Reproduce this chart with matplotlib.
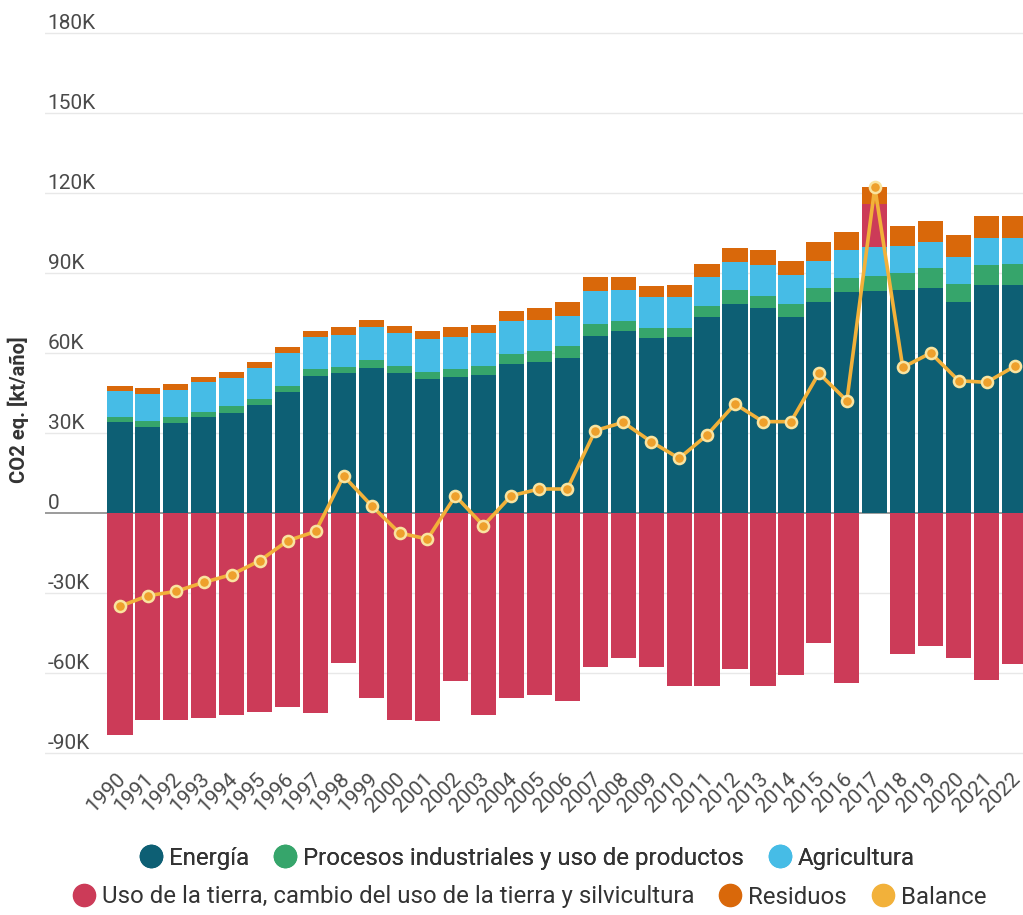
import numpy as np
import matplotlib.pyplot as plt
from matplotlib.lines import Line2D
from matplotlib.transforms import ScaledTranslation

plt.rcParams['font.family'] = ['Roboto', 'DejaVu Sans']

# values in kt CO2 eq. (thousands)
years = list(range(1990, 2023))
energia = [34.0, 32.4, 33.6, 35.9, 37.5, 40.5, 45.5, 51.5, 52.5, 54.25, 52.5, 50.25, 50.9,
           51.75, 55.75, 56.5, 58.1, 66.5, 68.1, 65.5, 65.9, 73.4, 78.4, 76.9, 73.4, 79.25,
           82.75, 83.1, 83.75, 84.4, 79.25, 85.5, 85.5]
procesos = [1.9, 2.2, 2.3, 1.85, 2.5, 2.25, 2.25, 2.5, 2.1, 3.25, 2.5, 2.75, 3.1,
            3.25, 4.0, 4.4, 4.65, 4.4, 4.0, 3.9, 3.5, 4.35, 5.35, 4.6, 5.0, 5.0,
            5.35, 5.9, 6.25, 7.35, 6.65, 7.5, 7.9]
agricultura = [10.0, 10.0, 10.35, 11.25, 10.5, 11.5, 12.15, 11.9, 12.3, 12.1, 12.4, 12.25, 12.1,
               12.4, 12.25, 11.5, 11.25, 12.5, 11.65, 11.5, 11.7, 10.65, 10.25, 11.6, 10.85, 10.35,
               10.5, 10.6, 10.25, 9.75, 10.0, 10.0, 9.6]
uso_tierra = [-83.1, -77.5, -77.5, -76.9, -75.75, -74.5, -72.6, -75.1, -56.25, -69.4, -77.5, -77.9, -63.1,
              -75.75, -69.4, -68.25, -70.4, -57.9, -54.5, -57.9, -65.0, -65.0, -58.5, -65.0, -60.75, -48.75,
              -63.6, 16.3, -52.9, -49.75, -54.5, -62.5, -56.75]
residuos = [1.85, 2.15, 2.15, 1.9, 2.5, 2.25, 2.2, 2.5, 2.7, 2.8, 2.85, 3.15, 3.5,
            3.2, 3.7, 4.5, 5.25, 5.0, 4.65, 4.1, 4.4, 5.0, 5.25, 5.5, 5.35, 6.9,
            6.9, 6.2, 7.5, 8.1, 8.5, 8.25, 8.25]
balance = [-35.0, -31.0, -29.4, -26.0, -23.1, -17.9, -10.4, -6.9, 13.9, 2.75, -7.5, -9.75, 6.4,
           -4.75, 6.5, 9.0, 9.0, 30.9, 34.0, 26.75, 20.5, 29.25, 40.9, 34.25, 34.25, 52.4,
           42.1, 122.1, 54.6, 60.0, 49.6, 49.0, 55.0]

yticks = [-90, -60, -30, 0, 30, 60, 90, 120, 150, 180]
ytick_labels = ['-90K', '-60K', '-30K', '0', '30K', '60K', '90K', '120K', '150K', '180K']

colors = {
    'Energía': '#0d5f74',
    'Procesos industriales y uso de productos': '#36a56b',
    'Agricultura': '#46bce6',
    'Uso de la tierra, cambio del uso de la tierra y silvicultura': '#cc3b58',
    'Residuos': '#d9680a',
    'Balance': '#f2b13a',
}

x = np.array(years)
e = np.array(energia)
p = np.array(procesos)
a = np.array(agricultura)
u = np.array(uso_tierra)
r = np.array(residuos)
u_pos = np.clip(u, 0, None)
u_neg = np.clip(u, None, 0)

fig = plt.figure(figsize=(10.23, 9.15), dpi=100)
ax = fig.add_axes([45 / 1023, 1 - 761 / 915, 1 - 45 / 1023, 736 / 915])

w = 0.9
ax.bar(x, e, w, color=colors['Energía'], zorder=2)
ax.bar(x, p, w, bottom=e, color=colors['Procesos industriales y uso de productos'], zorder=2)
ax.bar(x, a, w, bottom=e + p, color=colors['Agricultura'], zorder=2)
ax.bar(x, u_pos, w, bottom=e + p + a,
       color=colors['Uso de la tierra, cambio del uso de la tierra y silvicultura'], zorder=2)
ax.bar(x, r, w, bottom=e + p + a + u_pos, color=colors['Residuos'], zorder=2)
ax.bar(x, u_neg, w, color=colors['Uso de la tierra, cambio del uso de la tierra y silvicultura'], zorder=2)

# balance line
ax.plot(x, balance, color=colors['Balance'], lw=2.6, zorder=3,
        marker='o', markersize=8, markerfacecolor='#eea02c', markeredgecolor='#f9e4a0',
        markeredgewidth=1.8)

ax.set_xlim(1987.32, 2022.3)
ax.set_ylim(-93, 183)

# grid
for t in yticks:
    if t == 0:
        ax.axhline(0, color='#8a8a8a', lw=1.2, zorder=1)
    else:
        ax.axhline(t, color='#e8e8e8', lw=1.0, zorder=1)

ax.set_yticks(yticks)
ax.set_yticklabels(ytick_labels)
ax.tick_params(axis='y', length=0, pad=-2, labelsize=15, labelcolor='#4a4a4a')
for lab in ax.get_yticklabels():
    lab.set_horizontalalignment('left')
    lab.set_verticalalignment('bottom')

ax.set_xticks(x)
ax.set_xticklabels([str(y) for y in years], rotation=45, ha='right', rotation_mode='anchor')
ax.tick_params(axis='x', length=0, pad=6, labelsize=15, labelcolor='#4a4a4a')
shift = ScaledTranslation(-4 / 100, 0, fig.dpi_scale_trans)
for lab in ax.get_xticklabels():
    lab.set_transform(lab.get_transform() + shift)

for s in ax.spines.values():
    s.set_visible(False)

fig.text(18 / 1023, 1 - 410 / 915, 'CO2 eq. [kt/año]', rotation=90, ha='center', va='center',
         fontsize=14.5, fontweight='bold', color='#333333')

# legend, two centered rows
def handle(c):
    return Line2D([], [], ls='none', marker='o', markersize=16, markerfacecolor=c, markeredgecolor=c)

names1 = ['Energía', 'Procesos industriales y uso de productos', 'Agricultura']
names2 = ['Uso de la tierra, cambio del uso de la tierra y silvicultura', 'Residuos', 'Balance']
leg_kw = dict(frameon=False, fontsize=17.3, handletextpad=0.25, columnspacing=1.0,
              handlelength=1.0, borderpad=0, labelcolor='#333333')
leg1 = fig.legend([handle(colors[n]) for n in names1], names1, ncol=3,
                  loc='center', bbox_to_anchor=(0.515, 1 - 858 / 915), **leg_kw)
fig.legend([handle(colors[n]) for n in names2], names2, ncol=3,
           loc='center', bbox_to_anchor=(0.517, 1 - 897 / 915), **leg_kw)
fig.add_artist(leg1)

fig.savefig('out.png', dpi=100, facecolor='white')
